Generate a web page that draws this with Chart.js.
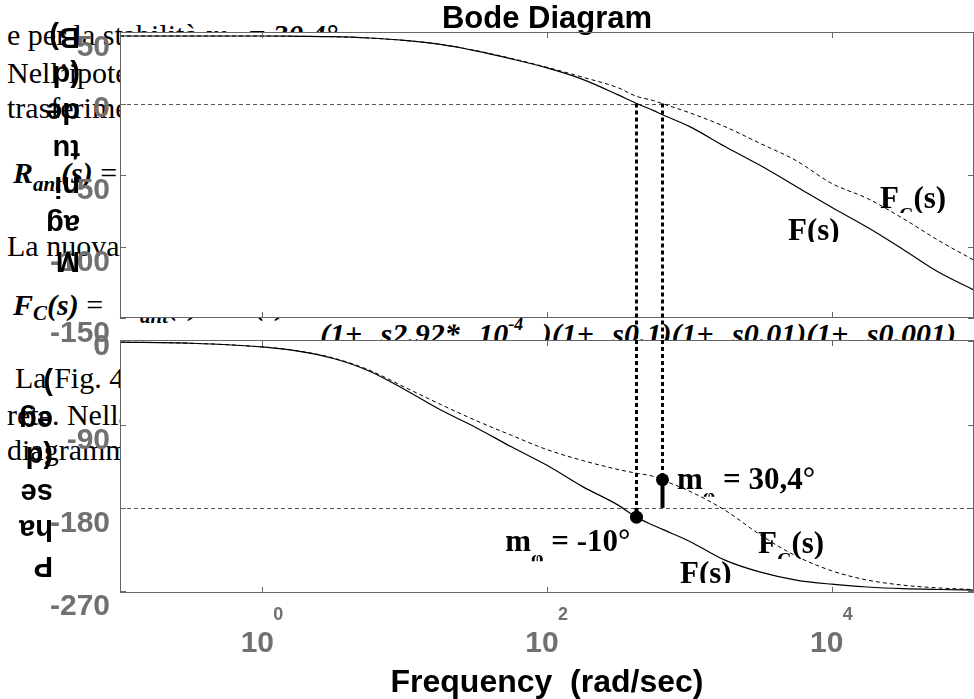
<!DOCTYPE html>
<html lang="it">
<head>
<meta charset="utf-8">
<title>Bode Diagram</title>
<script src="https://cdn.jsdelivr.net/npm/chart.js@4.4.0/dist/chart.umd.min.js"></script>
<style>
  html, body { margin: 0; padding: 0; background: #fff; }
  body { width: 974px; height: 699px; overflow: hidden; position: relative; }
  #doc { position: absolute; left: 0; top: 0; width: 974px; height: 699px;
         font-family: "Liberation Serif", "Times New Roman", serif; font-size: 30px; color: #000; }
  #doc .ln { position: absolute; white-space: nowrap; line-height: 30px; }
  #doc .bi { font-weight: bold; font-style: italic; }
  #doc .den { word-spacing: 11px; }
  #doc sub { font-size: 21px; line-height: 0; vertical-align: baseline; position: relative; top: 8px; }
  #doc sub.lowC { top: 5px; }
  #doc sup { font-size: 18px; line-height: 0; vertical-align: baseline; position: relative; top: -14px; }
  canvas { position: absolute; left: 0; }
  #mag { top: 0; z-index: 1; }
  #phase { top: 330px; z-index: 2; }
</style>
</head>
<body>
<div id="doc">
  <div class="ln" style="left:7px;top:20px">e per la stabilità <span class="bi">m<sub>φ</sub> = 30,4°</span></div>
  <div class="ln" style="left:7px;top:58px">Nell’ipotesi di una rete anticipatrice, la funzione di</div>
  <div class="ln" style="left:7px;top:93px">trasferimento della rete è:</div>
  <div class="ln" style="left:13px;top:158px"><span class="bi">R<sub>ant</sub>(s)</span> =</div>
  <div class="ln" style="left:7px;top:231px">La nuova funzione d’anello risulta:</div>
  <div class="ln" style="left:13px;top:290px"><span class="bi">F<sub class="lowC">C</sub>(s)</span> =</div>
  <div class="ln bi" style="left:120px;top:290px">R<sub>ant</sub>(s)</div>
  <div class="ln bi" style="left:235px;top:290px">F(s)</div>
  <div class="ln bi den" style="left:320px;top:319px">(1+ s2.92* 10<sup>-4</sup> )(1+ s0.1)(1+ s0.01)(1+ s0.001)</div>
  <div class="ln" style="left:15px;top:363px">La Fig. 4 riporta i diagrammi di Bode della</div>
  <div class="ln" style="left:7px;top:400px">rete. Nella stessa figura sono riportati i</div>
  <div class="ln" style="left:7px;top:435px">diagrammi di <span class="bi">F(s)</span>.</div>
</div>
<canvas id="mag" width="974" height="360"></canvas>
<canvas id="phase" width="974" height="369"></canvas>
<script>
// Frequency grid (rad/s)
const freq = [0.1, 0.316, 1, 1.78, 3.16, 5.62, 10, 17.8, 31.6, 56.2, 100, 178, 316, 425, 562, 642,
              1000, 1780, 3160, 5620, 10000, 17800, 31600, 56200, 100000];
// Magnitude (dB): plant F(s) and compensated loop F_C(s)
const magF  = [47.2, 47.2, 47.2, 47.0, 46.7, 45.8, 44.1, 41.3, 36.8, 31.2, 24.9, 16.9, 6.0, 0, -5.0, -7.7,
               -16.0, -30.1, -43.4, -58.0, -72.6, -86.6, -101.9, -117.9, -130.5];
const magFc = [47.2, 47.2, 47.2, 47.0, 46.7, 45.8, 44.1, 41.4, 37.0, 31.5, 25.3, 18.4, 11.0, 5.0, 2.0, 0,
               -6.4, -16.2, -28.0, -39.9, -55.9, -66.4, -80.3, -95.7, -109.6];
// Phase (deg)
const phaseF  = [-0.8, -2, -6, -10.5, -18.5, -32, -52, -74, -93, -114, -134, -157, -177, -190, -199, -203,
                 -216, -236.5, -249.5, -258, -262.5, -265.5, -267.3, -268.2, -268.8];
const phaseFc = [-0.8, -2, -6, -10.3, -18, -31, -49.5, -68, -85.5, -101.5, -117, -128.8, -138.5, -142.5, -146, -149.6,
                 -161.8, -182.5, -209.3, -232, -248, -258, -263.5, -266.5, -268.3];
// Gain crossover frequencies (rad/s) and phase margins (deg) of F(s) and F_C(s)
const crossFreq = [425, 642];
const phaseMargin = [-10, 30.4];
// Axis ticks
const freqTicks = [1, 100, 10000];
const magTicks = [50, 0, -50, -100, -150];
const phaseTicks = [0, -90, -180, -270];

const SANS = '"Liberation Sans", Arial, Helvetica, sans-serif';
const SERIF = '"Liberation Serif", "Times New Roman", Times, serif';
const TICK_GREY = '#707070';
const FRAME_GREY = '#666666';
const PANEL_GAP = 22;   // blank strip between magnitude and phase panels

Chart.defaults.font.family = SANS;

const points = ys => freq.map((f, i) => ({ x: f, y: ys[i] }));

function lineSet(label, ys, dashed) {
  return {
    label, data: points(ys),
    borderColor: '#000', borderWidth: dashed ? 1 : 1.2,
    borderDash: dashed ? [4, 3] : [],
    pointRadius: 0, fill: false, cubicInterpolationMode: 'monotone'
  };
}

function yAxis(min, max, values) {
  return {
    min, max,
    afterBuildTicks: s => { s.ticks = values.map(v => ({ value: v })); },
    afterFit: s => { s.width = 120; s.paddingTop = 0; s.paddingBottom = 0; },
    grid: { display: false, drawTicks: false },
    border: { display: false },
    ticks: {
      color: TICK_GREY, padding: 10, labelOffset: 16,
      font: { family: SANS, size: 30, weight: 'bold', lineHeight: '22px' },
      // the zero label sits a little higher than the others
      callback: v => v === 0 ? ['0', ''] : String(v)
    }
  };
}

// text with optional subscripts, serif bold
function richText(ctx, parts, x, y, align) {
  const big = `bold 31px ${SERIF}`, small = `bold 20px ${SERIF}`;
  let w = 0;
  for (const p of parts) { ctx.font = p.sub ? small : big; w += ctx.measureText(p.t).width; }
  let cx = align === 'right' ? x - w : x;
  ctx.textAlign = 'left';
  ctx.textBaseline = 'alphabetic';
  for (const p of parts) {
    ctx.font = p.sub ? small : big;
    ctx.fillText(p.t, cx, p.sub ? y + 14 : y);
    cx += ctx.measureText(p.t).width;
  }
}

function clipped(ctx, chart, bottom, draw) {
  ctx.save();
  ctx.beginPath();
  ctx.rect(0, 0, chart.width, bottom);
  ctx.clip();
  draw();
  ctx.restore();
}

// where each phase-margin caption sits relative to its marker
const marginLabelPlacement = [
  { dx: -6, dy: 34, clip: 44, align: 'right' },
  { dx: 15, dy: 9, clip: 17, align: 'left' }
];

function makeDecor(cfg) {
  return {
    id: 'bodeDecor',
    beforeDraw(chart) {
      const { ctx, chartArea: a } = chart;
      ctx.save();
      ctx.fillStyle = '#fff';
      ctx.fillRect(a.left, a.top, a.width, a.height);
      ctx.restore();
    },
    beforeDatasetsDraw(chart) {
      const { ctx, chartArea: a, scales: { y } } = chart;
      const py = Math.round(y.getPixelForValue(cfg.ref)) + 0.5;
      ctx.save();
      ctx.strokeStyle = '#555';
      ctx.lineWidth = 1;
      ctx.setLineDash([4, 3]);
      ctx.beginPath();
      ctx.moveTo(a.left, py);
      ctx.lineTo(a.right, py);
      ctx.stroke();
      ctx.restore();
    },
    afterDatasetsDraw(chart) {
      const { ctx, chartArea: a, scales: { x, y } } = chart;
      ctx.save();
      // box and inward tick marks
      ctx.strokeStyle = FRAME_GREY;
      ctx.lineWidth = 1;
      ctx.setLineDash([]);
      ctx.strokeRect(a.left + 0.5, a.top + 0.5, a.width - 1, a.height - 1);
      ctx.beginPath();
      x.ticks.forEach(t => {
        const px = Math.round(x.getPixelForValue(t.value)) + 0.5;
        ctx.moveTo(px, a.top); ctx.lineTo(px, a.top + 6);
        ctx.moveTo(px, a.bottom); ctx.lineTo(px, a.bottom - 6);
      });
      y.ticks.forEach(t => {
        const py = Math.round(y.getPixelForValue(t.value)) + 0.5;
        ctx.moveTo(a.left, py); ctx.lineTo(a.left + 6, py);
        ctx.moveTo(a.right, py); ctx.lineTo(a.right - 6, py);
      });
      ctx.stroke();

      // crossover verticals, margin bars and markers
      ctx.strokeStyle = '#000';
      ctx.fillStyle = '#000';
      crossFreq.forEach((f, i) => {
        const px = Math.round(x.getPixelForValue(f)) + 0.5;
        ctx.lineWidth = 3;
        ctx.setLineDash([4, 3]);
        ctx.beginPath();
        if (cfg.panel === 'mag') {
          ctx.moveTo(px, y.getPixelForValue(0));
          ctx.lineTo(px, a.bottom + PANEL_GAP);
          ctx.stroke();
        } else {
          const yRef = y.getPixelForValue(-180);
          const yM = y.getPixelForValue(-180 + phaseMargin[i]);
          ctx.moveTo(px, a.top);
          ctx.lineTo(px, Math.min(yRef, yM));
          ctx.stroke();
          ctx.setLineDash([]);
          ctx.lineWidth = 4;
          ctx.beginPath();
          ctx.moveTo(px, yRef);
          ctx.lineTo(px, yM);
          ctx.stroke();
          ctx.beginPath();
          ctx.arc(px, yM, 6.5, 0, Math.PI * 2);
          ctx.fill();
        }
      });
      ctx.restore();
    },
    afterDraw(chart) {
      const { ctx, chartArea: a, scales: { x, y } } = chart;
      // axis title, stacked and turned upside down
      const t = cfg.axisTitle;
      ctx.save();
      ctx.fillStyle = '#000';
      ctx.font = `bold 29px ${SANS}`;
      ctx.textAlign = 'left';
      ctx.textBaseline = 'middle';
      t.lines.forEach((s, i) => {
        ctx.save();
        ctx.translate(t.right, t.bottom - i * t.step);
        ctx.rotate(Math.PI);
        ctx.fillText(s, 0, 0);
        ctx.restore();
      });
      ctx.restore();

      // curve names
      ctx.save();
      ctx.fillStyle = '#000';
      cfg.curveLabels.forEach(l => clipped(ctx, chart, l.clip, () => richText(ctx, l.parts, l.x, l.y, 'left')));

      if (cfg.panel === 'phase') {
        // phase-margin captions
        crossFreq.forEach((f, i) => {
          const m = phaseMargin[i], o = marginLabelPlacement[i];
          const px = x.getPixelForValue(f), py = y.getPixelForValue(-180 + m);
          const parts = [{ t: 'm' }, { t: 'φ', sub: true }, { t: ' = ' + String(m).replace('.', ',') + '°' }];
          clipped(ctx, chart, py + o.clip, () => richText(ctx, parts, px + o.dx, py + o.dy, o.align));
        });
        // decade exponents next to the "10" labels
        ctx.font = `bold 18px ${SANS}`;
        ctx.fillStyle = TICK_GREY;
        ctx.textAlign = 'center';
        ctx.textBaseline = 'middle';
        x.ticks.forEach(tk => {
          ctx.fillText(String(Math.round(Math.log10(tk.value))), x.getPixelForValue(tk.value) + 16, a.bottom + 22);
        });
      }
      ctx.restore();
    }
  };
}

new Chart(document.getElementById('mag'), {
  type: 'line',
  data: { datasets: [lineSet('F(s)', magF, false), lineSet('F_C(s)', magFc, true)] },
  options: {
    responsive: false, animation: false, devicePixelRatio: 1,
    layout: { padding: { left: 0, right: 0, top: 0, bottom: 42 } },
    plugins: {
      legend: { display: false },
      tooltip: { enabled: false },
      title: {
        display: true, text: 'Bode Diagram', fullSize: false, color: '#000',
        padding: { top: 3, bottom: -3 },
        font: { family: SANS, size: 31, weight: 'bold', lineHeight: '32px' }
      }
    },
    scales: {
      x: {
        type: 'logarithmic', min: 0.1, max: 1e5, display: false,
        afterBuildTicks: s => { s.ticks = freqTicks.map(v => ({ value: v })); }
      },
      y: yAxis(-150, 50, magTicks)
    }
  },
  plugins: [makeDecor({
    panel: 'mag', ref: 0,
    axisTitle: { lines: ['M', 'ag', 'ni', 'tu', 'de', '(d', 'B)'], right: 80, bottom: 260, step: 37.3 },
    curveLabels: [
      { parts: [{ t: 'F' }, { t: 'C', sub: true }, { t: '(s)' }], x: 880, y: 208, clip: 213 },
      { parts: [{ t: 'F(s)' }], x: 788, y: 240, clip: 242 }
    ]
  })]
});

new Chart(document.getElementById('phase'), {
  type: 'line',
  data: { datasets: [lineSet('F(s)', phaseF, false), lineSet('F_C(s)', phaseFc, true)] },
  options: {
    responsive: false, animation: false, devicePixelRatio: 1,
    layout: { padding: { left: 0, right: 0, top: 10, bottom: 0 } },
    plugins: { legend: { display: false }, tooltip: { enabled: false } },
    scales: {
      x: {
        type: 'logarithmic', min: 0.1, max: 1e5,
        afterBuildTicks: s => { s.ticks = freqTicks.map(v => ({ value: v })); },
        afterFit: s => { s.height = 106; s.paddingLeft = 0; s.paddingRight = 0; },
        grid: { display: false, drawTicks: false },
        border: { display: false },
        ticks: {
          color: TICK_GREY, padding: 33, labelOffset: -5, autoSkip: false, maxRotation: 0, minRotation: 0,
          font: { family: SANS, size: 30, weight: 'bold', lineHeight: 1.2 },
          callback: () => '10'
        },
        title: {
          display: true, text: 'Frequency  (rad/sec)', color: '#000', padding: 0,
          font: { family: SANS, size: 32, weight: 'bold', lineHeight: 1 }
        }
      },
      y: yAxis(-272, 1.5, phaseTicks)
    }
  },
  plugins: [makeDecor({
    panel: 'phase', ref: -180,
    axisTitle: { lines: ['P', 'ha', 'se', '(d', 'eg', ')'], right: 53, bottom: 235, step: 36.6 },
    curveLabels: [
      { parts: [{ t: 'F' }, { t: 'C', sub: true }, { t: '(s)' }], x: 758, y: 223, clip: 229 },
      { parts: [{ t: 'F(s)' }], x: 680, y: 253, clip: 253 }
    ]
  })]
});
</script>
</body>
</html>
